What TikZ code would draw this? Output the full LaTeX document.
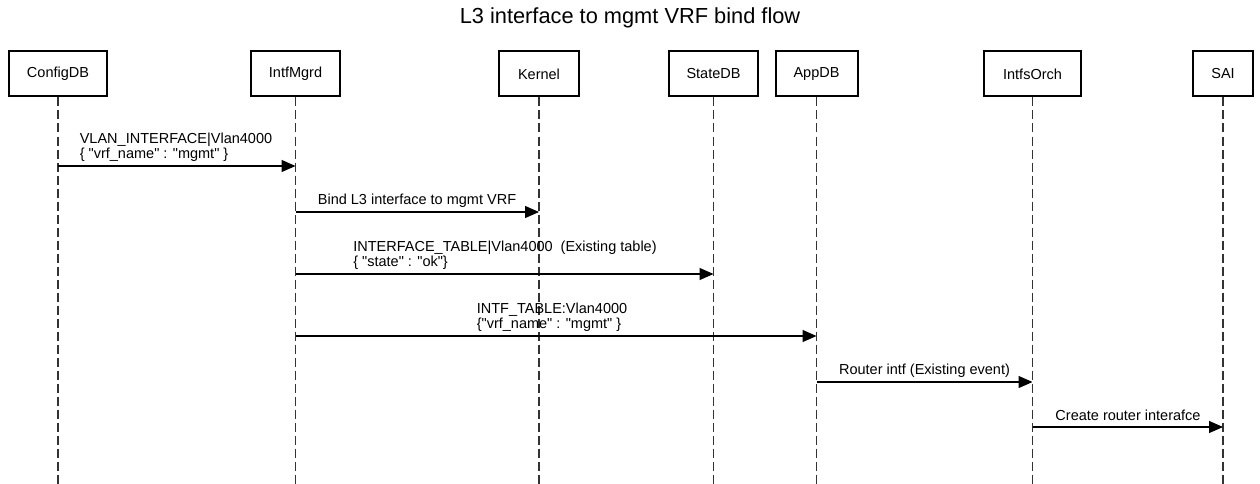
\documentclass[tikz,border=0pt]{standalone}
\usepackage{fontspec}
\setmainfont{Liberation Sans}[Ligatures=TeXOff]
\usetikzlibrary{arrows.meta}
\begin{document}
\begin{tikzpicture}[x=1pt,y=-1pt,
  actor/.style={draw=black,line width=2pt,fill=white,minimum height=45pt,inner sep=0pt,font=\fontsize{14.5}{16}\selectfont},
  life/.style={draw=black!80,line width=1.3pt,dash pattern=on 9pt off 4pt},
  msg/.style={draw=black,line width=1.3pt,-{Triangle[length=14pt,width=12pt]}},
  lbl/.style={anchor=south,inner sep=0pt,align=left,font=\fontsize{14.5}{15.5}\selectfont},
  ttl/.style={font=\fontsize{21.8}{24}\selectfont}]
\useasboundingbox (0,0) rectangle (1260,484);
\fill[white] (0,0) rectangle (1260,484);
\node[ttl] (title) at (630,18) {L3 interface to mgmt VRF bind flow};
% actors
\node[actor,minimum width=98pt] (cfg) at (58,74) {ConfigDB};
\node[actor,minimum width=89pt] (mgr) at (295.5,74) {IntfMgrd};
\node[actor,minimum width=80pt] (ker) at (539,74) {Kernel};
\node[actor,minimum width=89pt] (st) at (713.5,74) {StateDB};
\node[actor,minimum width=82pt] (app) at (816.5,74) {AppDB};
\node[actor,minimum width=97pt] (orch) at (1032.5,74) {IntfsOrch};
\node[actor,minimum width=60pt] (sai) at (1223,74) {SAI};
% lifeline ends
\foreach \n in {cfg,mgr,ker,st,app,orch,sai}{
  \coordinate (\n-end) at (\n.south |- 0,486);
  \draw[life] (\n.south) -- (\n-end);
}
% messages
\draw[msg] (cfg.south |- 0,166) -- (mgr.south |- 0,166);
\node[lbl] (l1) at (176,162) {VLAN\_INTERFACE|Vlan4000\\\{ "vrf\_name" : "mgmt" \}};
\draw[msg] (mgr.south |- 0,212) -- (ker.south |- 0,212);
\node[lbl] (l2) at (417,208) {Bind L3 interface to mgmt VRF};
\draw[msg] (mgr.south |- 0,274) -- (st.south |- 0,274);
\node[lbl] (l3) at (505,270) {INTERFACE\_TABLE|Vlan4000\ \ (Existing table)\\\{ "state" : "ok"\}};
\draw[msg] (mgr.south |- 0,336) -- (app.south |- 0,336);
\node[lbl] (l4) at (552,332) {INTF\_TABLE:Vlan4000\\\{"vrf\_name" : "mgmt" \}};
\draw[msg] (app.south |- 0,382) -- (orch.south |- 0,382);
\node[lbl] (l5) at (924.5,378) {Router intf (Existing event)};
\draw[msg] (orch.south |- 0,427) -- (sai.south |- 0,427);
\node[lbl,text depth=3pt] (l6) at (1128,424) {Create router interafce};
\end{tikzpicture}
\end{document}
